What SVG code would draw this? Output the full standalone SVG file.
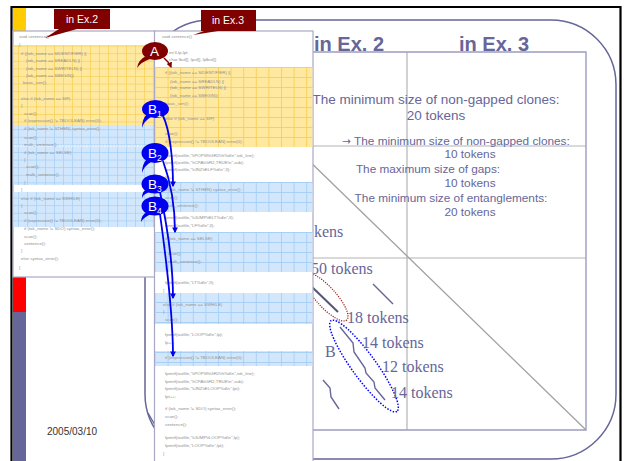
<svg xmlns="http://www.w3.org/2000/svg" width="624" height="461" viewBox="0 0 624 461">
  <defs>
    <style>
      .code { font-family: "Liberation Sans", Arial, sans-serif; font-size: 4.4px; fill: #909090; }
      .hdr { font-family: "Liberation Sans", Arial, sans-serif; font-size: 20px; font-weight: bold; fill: #666699; }
      .tbl { font-family: "Liberation Sans", Arial, sans-serif; fill: #666699; text-anchor: middle; }
      .dot { font-family: "Liberation Serif", "Times New Roman", serif; font-size: 16px; fill: #666699; }
      .tag { font-family: "Liberation Sans", Arial, sans-serif; font-size: 10.5px; fill: #ffffff; text-anchor: middle; }
      .mk { font-family: "Liberation Sans", Arial, sans-serif; font-size: 13.5px; fill: #ffffff; }
      .panel { fill: #ffffff; stroke: #a8a8c4; stroke-width: 1.2; }
      .grid { stroke: #b4b4b4; stroke-width: 1.2; fill: none; }
      .frame { stroke: #9c9cc0; stroke-width: 1.4; fill: none; }
      .seg { stroke: #666699; stroke-width: 1.4; fill: none; }
      .blueArrow { stroke: #0000ee; stroke-width: 1.8; fill: none; marker-end: url(#headB); }
    </style>
    <pattern id="yelL" width="9" height="7.6" patternUnits="userSpaceOnUse">
      <rect width="9" height="7.6" fill="#ffe8a0"/>
      <path d="M0 0.4H9M0.4 0V7.6" stroke="#f8cf55" stroke-width="0.8"/>
    </pattern>
    <pattern id="bluL" width="9" height="7.6" patternUnits="userSpaceOnUse">
      <rect width="9" height="7.6" fill="#d2e7fc"/>
      <path d="M0 0.4H9M0.4 0V7.6" stroke="#a4cef5" stroke-width="0.8"/>
    </pattern>
    <pattern id="yelR" width="12.6" height="10" patternUnits="userSpaceOnUse" x="155" y="67">
      <rect width="12.6" height="10" fill="#ffe8a0"/>
      <path d="M0 0.5H12.6M0.5 0V10" stroke="#f8cf55" stroke-width="0.9"/>
    </pattern>
    <pattern id="bluR" width="12.6" height="10" patternUnits="userSpaceOnUse" x="155" y="182">
      <rect width="12.6" height="10" fill="#d2e7fc"/>
      <path d="M0 0.5H12.6M0.5 0V10" stroke="#a4cef5" stroke-width="0.9"/>
    </pattern>
    <marker id="headB" viewBox="0 0 10 10" refX="8" refY="5" markerWidth="3.2" markerHeight="3.2" orient="auto">
      <path d="M0,0 L10,5 L0,10 Z" fill="#0000ee"/>
    </marker>
    <marker id="headR" viewBox="0 0 10 10" refX="8" refY="5" markerWidth="3.6" markerHeight="3.6" orient="auto">
      <path d="M0,0 L10,5 L0,10 Z" fill="#800000"/>
    </marker>
  </defs>

  <rect width="624" height="461" fill="#ffffff"/>

  <!-- slide frame and side bar -->
  <g id="slide-frame">
    <path d="M11.5,461 V7 H620.5 V461" fill="none" stroke="#000000" stroke-width="2.2"/>
    <rect x="13" y="8" width="13" height="23" fill="#ffcc00"/>
    <rect x="13" y="277" width="13" height="35" fill="#ff0000"/>
    <rect x="13" y="312" width="13" height="149" fill="#666699"/>
    <path d="M145,85 A65,65 0 0 1 210,20 H551 A65,65 0 0 1 616,85 V394 A65,65 0 0 1 551,459 H210 A65,65 0 0 1 145,394 Z" fill="none" stroke="#666699" stroke-width="1.5"/>
    <text x="47" y="435" font-family="Liberation Sans, Arial, sans-serif" font-size="10" fill="#333333">2005/03/10</text>
  </g>

  <!-- comparison table -->
  <g id="table">
    <text class="hdr" x="314" y="51">in Ex. 2</text>
    <text class="hdr" x="459" y="51">in Ex. 3</text>
    <path class="grid" d="M407,52 V430 M313,146 H586 M313,258 H586"/>
    <path class="frame" d="M313,52 H586 V430 H313"/>
    <text class="tbl" x="436" y="104" font-size="13.5">The minimum size of non-gapped clones:</text>
    <text class="tbl" x="436" y="120" font-size="13.5">20 tokens</text>
    <text class="tbl" x="456" y="145" font-size="11.8"><tspan font-family="DejaVu Sans, sans-serif" font-size="10.5">→</tspan> The minimum size of non-gapped clones:</text>
    <text class="tbl" x="470" y="158" font-size="11.8">10 tokens</text>
    <text class="tbl" x="428" y="173" font-size="11.8">The maximum size of gaps:</text>
    <text class="tbl" x="470" y="187" font-size="11.8">10 tokens</text>
    <text class="tbl" x="451" y="202" font-size="11.8">The minimum size of entanglements:</text>
    <text class="tbl" x="470" y="216" font-size="11.8">20 tokens</text>
  </g>

  <!-- dot plot -->
  <g id="dot-plot">
    <path d="M300,152 L586,430" stroke="#a0a0a0" stroke-width="1.3" fill="none"/>
    <path class="seg" d="M373,284 L393,304"/>
    <path d="M311,286 L338,312" stroke="#555577" stroke-width="2" fill="none"/>
    <ellipse cx="326" cy="297" rx="31" ry="10" transform="rotate(48 326 297)" fill="none" stroke="#9a1a1a" stroke-width="1.2" stroke-dasharray="1.2 1.2"/>
    <path class="seg" d="M340,327 L353,343 L354,352 L365,368 L366,373 L374,382 L375,388 L385,400"/>
    <path class="seg" d="M323,380 L330,388 L331,397 L339,409"/>
    <path class="seg" d="M148,413 L155,425"/>
    <ellipse cx="364" cy="366" rx="56" ry="12" transform="rotate(54 364 366)" fill="none" stroke="#0000ff" stroke-width="1.5" stroke-dasharray="1.5 1.5"/>
    <text class="dot" x="314" y="237">kens</text>
    <text class="dot" x="311" y="274">50 tokens</text>
    <text class="dot" x="347" y="323">18 tokens</text>
    <text class="dot" x="362" y="348">14 tokens</text>
    <text class="dot" x="382" y="372">12 tokens</text>
    <text class="dot" x="391" y="398">14 tokens</text>
    <text class="dot" x="325" y="357">B</text>
  </g>

  <!-- code listing, Ex. 2 -->
  <g id="code-ex2">
    <rect class="panel" x="13" y="31" width="142" height="246"/>
    <rect x="13.6" y="45" width="141" height="80" fill="url(#yelL)"/>
    <rect x="13.6" y="125" width="141" height="60" fill="url(#bluL)"/>
    <rect x="13.6" y="192" width="141" height="35" fill="url(#bluL)"/>
    <path d="M14,146 H155" stroke="#ffffff" stroke-width="0.9" stroke-dasharray="2 1"/>
    <text class="code" x="19" y="37.5">void sentence()</text>
    <text class="code" x="19" y="45.5">{</text>
    <text class="code" x="21" y="54.5">if ((tok_name == SIDENTIFIER) ||</text>
    <text class="code" x="26" y="61.5">(tok_name == SREADLN)     ||</text>
    <text class="code" x="26" y="69.5">(tok_name == SWRITELN)   ||</text>
    <text class="code" x="26" y="76.5">(tok_name == SBEGIN))</text>
    <text class="code" x="23" y="83.5">basic_sen();</text>
    <text class="code" x="21" y="99.5">else if (tok_name == SIF)</text>
    <text class="code" x="21" y="106.5">{</text>
    <text class="code" x="24" y="114.5">scan();</text>
    <text class="code" x="24" y="121.5">if (expression() != TBOOLEAN) error(0);</text>
    <text class="code" x="24" y="129.5">if (tok_name != STHEN) syntax_error();</text>
    <text class="code" x="24" y="138.5">scan();</text>
    <text class="code" x="24" y="145.5">multi_sentence();</text>
    <text class="code" x="24" y="153.5">if (tok_name == SELSE)</text>
    <text class="code" x="24" y="160.5">{</text>
    <text class="code" x="26" y="167.5">scan();</text>
    <text class="code" x="26" y="175.5">multi_sentence();</text>
    <text class="code" x="24" y="183.5">}</text>
    <text class="code" x="21" y="190.5">}</text>
    <text class="code" x="21" y="199.5">else if (tok_name == SWHILE)</text>
    <text class="code" x="21" y="206.5">{</text>
    <text class="code" x="24" y="213.5">scan();</text>
    <text class="code" x="24" y="221.5">if (expression() != TBOOLEAN) error(0);</text>
    <text class="code" x="24" y="229.5">if (tok_name != SDO) syntax_error();</text>
    <text class="code" x="24" y="237.5">scan();</text>
    <text class="code" x="24" y="244.5">sentence();</text>
    <text class="code" x="21" y="251.5">}</text>
    <text class="code" x="21" y="259.5">else syntax_error();</text>
    <text class="code" x="19" y="268.5">}</text>
  </g>

  <!-- code listing, Ex. 3 -->
  <g id="code-ex3">
    <rect class="panel" x="154.5" y="31" width="158.5" height="440"/>
    <rect x="155.2" y="67" width="157.2" height="80" fill="url(#yelR)"/>
    <rect x="155.2" y="182" width="157.2" height="30" fill="url(#bluR)"/>
    <rect x="155.2" y="232" width="157.2" height="40" fill="url(#bluR)"/>
    <rect x="155.2" y="293" width="157.2" height="31" fill="url(#bluR)"/>
    <rect x="155.2" y="351" width="157.2" height="15" fill="url(#bluR)"/>
    <text class="code" x="162" y="37.5">void sentence()</text>
    <text class="code" x="169" y="53.5">int ll,lp,lpt;</text>
    <text class="code" x="169" y="60.5">char lbuf[], lpuf[], lplbuf[];</text>
    <text class="code" x="165" y="73.5">if ((tok_name == SIDENTIFIER) ||</text>
    <text class="code" x="170" y="82.5">(tok_name == SREADLN)     ||</text>
    <text class="code" x="170" y="88.5">(tok_name == SWRITELN)   ||</text>
    <text class="code" x="170" y="96.5">(tok_name == SBEGIN))</text>
    <text class="code" x="165" y="104.5">basic_sen();</text>
    <text class="code" x="165" y="119.5">else if (tok_name == SIF)</text>
    <text class="code" x="165" y="134.5">scan();</text>
    <text class="code" x="165" y="142.5">if (expression() != TBOOLEAN) error(0);</text>
    <text class="code" x="165" y="156.5">fprintf(outfile,"\tPOPW\tGR2\t\t%d\n",tok_line);</text>
    <text class="code" x="165" y="163.5">fprintf(outfile,"\tCPA\tGR2,TRUE\n",sub);</text>
    <text class="code" x="165" y="170.5">fprintf(outfile,"\tJNZ\tELF%d\n",ll);</text>
    <text class="code" x="165" y="178.5">ll++;</text>
    <text class="code" x="165" y="190.5">if (tok_name != STHEN) syntax_error();</text>
    <text class="code" x="165" y="198.5">scan();</text>
    <text class="code" x="165" y="206.5">multi_sentence();</text>
    <text class="code" x="165" y="218.5">fprintf(outfile,"\tJUMP\tELT%d\n",ll);</text>
    <text class="code" x="165" y="226.5">fprintf(outfile,"LF%d\n",ll);</text>
    <text class="code" x="165" y="239.5">if (tok_name == SELSE)</text>
    <text class="code" x="165" y="246.5">{</text>
    <text class="code" x="168" y="254.5">scan();</text>
    <text class="code" x="168" y="262.5">multi_sentence();</text>
    <text class="code" x="165" y="268.5">}</text>
    <text class="code" x="165" y="283.5">fprintf(outfile,"LT%d\n",ll);</text>
    <text class="code" x="163" y="291.5">}</text>
    <text class="code" x="163" y="305.5">else if (tok_name == SWHILE)</text>
    <text class="code" x="163" y="312.5">{</text>
    <text class="code" x="165" y="320.5">scan();</text>
    <text class="code" x="165" y="335.5">fprintf(outfile,"LOOP%d\n",lp);</text>
    <text class="code" x="165" y="343.5">lp++;</text>
    <text class="code" x="165" y="358.5">if (expression() != TBOOLEAN) error(0);</text>
    <text class="code" x="165" y="374.5">fprintf(outfile,"\tPOPW\tGR2\t\t%d\n",tok_line);</text>
    <text class="code" x="165" y="382.5">fprintf(outfile,"\tCPA\tGR2,TRUE\n",sub);</text>
    <text class="code" x="165" y="389.5">fprintf(outfile,"\tJNZ\tELOOP%d\n",lpt);</text>
    <text class="code" x="165" y="397.5">lpt++;</text>
    <text class="code" x="165" y="409.5">if (tok_name != SDO) syntax_error();</text>
    <text class="code" x="165" y="417.5">scan();</text>
    <text class="code" x="165" y="425.5">sentence();</text>
    <text class="code" x="165" y="438.5">fprintf(outfile,"\tJUMP\tLOOP%d\n",lp);</text>
    <text class="code" x="165" y="446.5">fprintf(outfile,"LOOP%d\n",lpt);</text>
    <text class="code" x="163" y="454.5">}</text>
  </g>

  <!-- panel titles -->
  <g id="tag-ex2">
    <path d="M54,9 H110 V29 H77 L45,38 L59,29 H54 Z" fill="#800000"/>
    <text class="tag" x="82" y="23">in Ex.2</text>
  </g>
  <g id="tag-ex3">
    <path d="M201,10 H256 V31 H218 L193,35 L204,31 H201 Z" fill="#800000"/>
    <text class="tag" x="228" y="24">in Ex.3</text>
  </g>

  <!-- connectors between the two listings -->
  <g id="connectors">
    <path d="M164,58 Q169,62 171,67" fill="none" stroke="#800000" stroke-width="1.6" marker-end="url(#headR)"/>
    <path class="blueArrow" d="M163,116 C170,130 173,160 173,186"/>
    <path class="blueArrow" d="M163,161 C170,180 175,205 175,232"/>
    <path class="blueArrow" d="M160,192 C167,225 173,260 173,298"/>
    <path class="blueArrow" d="M160,214 C167,265 173,320 173,356"/>
  </g>

  <!-- clone markers -->
  <g id="marker-A">
    <path d="M146,56 Q138,60 137,68 Q141,62 150,59 Z" fill="#800000"/>
    <ellipse cx="155" cy="51" rx="13" ry="9" fill="#800000"/>
    <text class="mk" x="150" y="56" font-size="12">A</text>
  </g>
  <g id="marker-B1">
    <path d="M147,114 Q142,119 142,128 Q144,121 151,117 Z" fill="#0000ee"/>
    <ellipse cx="155.5" cy="109" rx="13.5" ry="9" fill="#0000ee"/>
    <text class="mk" x="148" y="114">B<tspan font-size="8.5" dy="3">1</tspan></text>
  </g>
  <g id="marker-B2">
    <path d="M147,159 Q142,164 142,173 Q144,166 151,162 Z" fill="#0000ee"/>
    <ellipse cx="155" cy="153" rx="13.5" ry="10" fill="#0000ee"/>
    <text class="mk" x="148" y="158">B<tspan font-size="8.5" dy="3">2</tspan></text>
  </g>
  <g id="marker-B3">
    <path d="M147,189 Q142,191 142,198 Q144,193 151,192 Z" fill="#0000ee"/>
    <ellipse cx="155" cy="184" rx="13.5" ry="9.5" fill="#0000ee"/>
    <text class="mk" x="148" y="189">B<tspan font-size="8.5" dy="3">3</tspan></text>
  </g>
  <g id="marker-B4">
    <path d="M147,212 Q141,215 141,222 Q144,217 151,214 Z" fill="#0000ee"/>
    <ellipse cx="155" cy="206" rx="13.5" ry="9.5" fill="#0000ee"/>
    <text class="mk" x="148" y="211">B<tspan font-size="8.5" dy="3">4</tspan></text>
  </g>
</svg>
